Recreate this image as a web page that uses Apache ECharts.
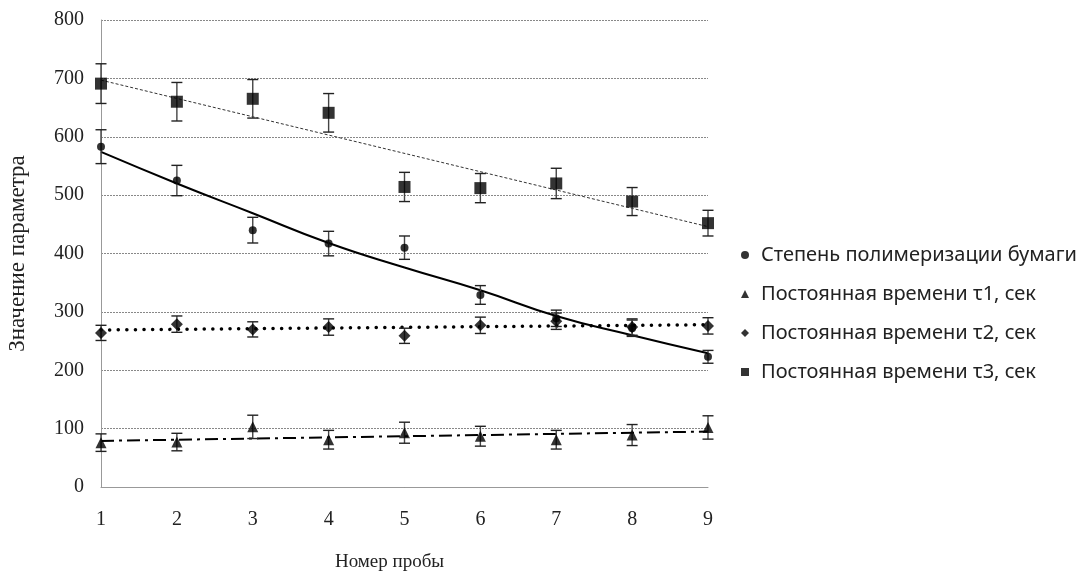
<!DOCTYPE html>
<html>
<head>
<meta charset="utf-8">
<script src="https://cdn.jsdelivr.net/npm/echarts@6/dist/echarts.min.js"></script>
<style>html,body{margin:0;padding:0;background:#fff}#c{width:1080px;height:577px}</style>
</head>
<body>
<div id="c"></div>
<script>
// ---- data ----
const samples = [1, 2, 3, 4, 5, 6, 7, 8, 9];
const yTicks = [0, 100, 200, 300, 400, 500, 600, 700, 800];
const seriesNames = [
  'Степень полимеризации бумаги',
  'Постоянная времени τ1, сек',
  'Постоянная времени τ2, сек',
  'Постоянная времени τ3, сек'
];
const dpValues   = [583, 525, 440, 417, 410, 329, 289, 272, 223];
const dpErrors   = [29, 26, 22, 21, 20, 16, 14, 14, 11];
const tau1Values = [76, 77, 103, 81, 93, 87, 81, 89, 102];
const tau1Errors = [15, 15, 20, 16, 18, 17, 16, 18, 20];
const tau2Values = [264, 279, 270, 274, 259, 277, 284, 274, 276];
const tau2Errors = [13, 14, 13, 14, 13, 14, 14, 14, 14];
const tau3Values = [691, 660, 665, 641, 514, 512, 520, 489, 452];
const tau3Errors = [34, 33, 33, 33, 25, 25, 26, 24, 22];
// trend lines
const dpTrend   = [574, 520, 469, 418, 376, 337, 293, 260, 229];
const tau1TrendX = [1, 9];
const tau1Trend  = [79, 95];
const tau2TrendX = [1, 9];
const tau2Trend  = [269, 278];
const tau3TrendX = [1, 9];
const tau3Trend  = [697, 446];

const pairs = (xs, ys) => xs.map((x, i) => [x, ys[i]]);
const triples = (xs, ys, es) => xs.map((x, i) => [x, ys[i], es[i]]);

function errRender(params, api) {
  const x = api.value(0), v = api.value(1), e = api.value(2);
  const t = api.coord([x, v + e]), b = api.coord([x, v - e]);
  const w = 5.5;
  return {
    type: 'group',
    children: [
      {type: 'line', shape: {x1: t[0], y1: t[1], x2: b[0], y2: b[1]}, style: {stroke: '#444', lineWidth: 1.4}},
      {type: 'line', shape: {x1: t[0] - w, y1: t[1], x2: t[0] + w, y2: t[1]}, style: {stroke: '#222', lineWidth: 1.4}},
      {type: 'line', shape: {x1: b[0] - w, y1: b[1], x2: b[0] + w, y2: b[1]}, style: {stroke: '#222', lineWidth: 1.4}}
    ]
  };
}

const chart = echarts.init(document.getElementById('c'), null, {renderer: 'canvas'});
const serif = '"Liberation Serif", "Times New Roman", serif';
const sans = '"Noto Sans", "Open Sans", sans-serif';

const option = {
  animation: false,
  backgroundColor: '#fff',
  grid: {left: 101, right: 372, top: 20, bottom: 90, containLabel: false, outerBoundsMode: 'none'},
  legend: {
    orient: 'vertical',
    left: 736,
    top: 240,
    itemWidth: 8,
    itemHeight: 8,
    itemGap: 19,
    textStyle: {fontFamily: sans, fontSize: 20, color: '#222', lineHeight: 20, padding: [0, 0, 0, 7]},
    data: [
      {name: seriesNames[0], icon: 'circle'},
      {name: seriesNames[1], icon: 'triangle'},
      {name: seriesNames[2], icon: 'diamond'},
      {name: seriesNames[3], icon: 'rect'}
    ]
  },
  xAxis: {
    type: 'value', min: 1, max: 9, interval: 1,
    name: 'Номер пробы', nameLocation: 'middle', nameGap: 66,
    nameTextStyle: {fontFamily: serif, fontSize: 19, color: '#222', padding: [0, 30, 0, 0]},
    axisLine: {show: true, lineStyle: {color: '#999', width: 1}},
    axisTick: {show: false},
    splitLine: {show: false},
    axisLabel: {fontFamily: serif, fontSize: 20, color: '#222', margin: 23,
      formatter: v => samples.includes(v) ? String(v) : ''}
  },
  yAxis: {
    type: 'value', min: yTicks[0], max: yTicks[yTicks.length - 1], interval: 100,
    name: 'Значение параметра', nameLocation: 'middle', nameGap: 72,
    nameTextStyle: {fontFamily: serif, fontSize: 23, color: '#222'},
    axisLine: {show: true, lineStyle: {color: '#999', width: 1}},
    axisTick: {show: false},
    splitLine: {show: true, lineStyle: {color: '#888', type: [2, 1], width: 1}},
    axisLabel: {fontFamily: serif, fontSize: 20, color: '#222', margin: 17}
  },
  series: [
    // trend lines
    {type: 'line', data: pairs(samples, dpTrend), smooth: true, symbol: 'none', silent: true, z: 2,
      lineStyle: {color: '#000', width: 2}},
    {type: 'line', data: pairs(tau1TrendX, tau1Trend), symbol: 'none', silent: true, z: 2,
      lineStyle: {color: '#000', width: 2, type: [13, 5, 3, 5]}},
    {type: 'line', data: pairs(tau2TrendX, tau2Trend), symbol: 'none', silent: true, z: 2,
      lineStyle: {color: '#000', width: 3.5, type: [0.1, 8.5], cap: 'round'}},
    {type: 'line', data: pairs(tau3TrendX, tau3Trend), symbol: 'none', silent: true, z: 2,
      lineStyle: {color: '#333', width: 1, type: [3, 2]}},
    // error bars
    {type: 'custom', renderItem: errRender, data: triples(samples, dpValues, dpErrors), z: 3, silent: true},
    {type: 'custom', renderItem: errRender, data: triples(samples, tau1Values, tau1Errors), z: 3, silent: true},
    {type: 'custom', renderItem: errRender, data: triples(samples, tau2Values, tau2Errors), z: 3, silent: true},
    {type: 'custom', renderItem: errRender, data: triples(samples, tau3Values, tau3Errors), z: 3, silent: true},
    // markers
    {name: seriesNames[0], type: 'scatter', data: pairs(samples, dpValues), symbol: 'circle', symbolSize: 8, z: 4,
      itemStyle: {color: '#000'}},
    {name: seriesNames[1], type: 'scatter', data: pairs(samples, tau1Values), symbol: 'triangle', symbolSize: 11, z: 4,
      itemStyle: {color: '#000'}},
    {name: seriesNames[2], type: 'scatter', data: pairs(samples, tau2Values), symbol: 'diamond', symbolSize: 12, z: 4,
      itemStyle: {color: '#000'}},
    {name: seriesNames[3], type: 'scatter', data: pairs(samples, tau3Values), symbol: 'rect', symbolSize: 12, z: 4,
      itemStyle: {color: '#000'}}
  ]
};
chart.setOption(option);
</script>
</body>
</html>
